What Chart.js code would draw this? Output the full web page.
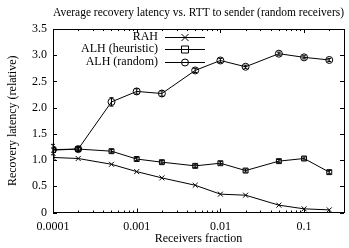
<!DOCTYPE html>
<html>
<head>
<meta charset="utf-8">
<script src="https://cdn.jsdelivr.net/npm/chart.js@4/dist/chart.umd.min.js"></script>
<style>
html,body{margin:0;padding:0;background:#fff;}
canvas{display:block;}
</style>
</head>
<body>
<canvas id="c" width="349" height="248"></canvas>
<script>
const fractions = [0.0001, 0.0002, 0.0005, 0.001, 0.002, 0.005, 0.01, 0.02, 0.05, 0.1, 0.2];
const rah = [1.05, 1.03, 0.92, 0.78, 0.66, 0.52, 0.35, 0.33, 0.14, 0.07, 0.05];
const alhHeuristic = [1.19, 1.21, 1.17, 1.02, 0.96, 0.89, 0.94, 0.80, 0.98, 1.03, 0.77];
const alhHeuristicErr = [0.04, 0.03, 0.03, 0.03, 0.03, 0.03, 0.03, 0.03, 0.03, 0.03, 0.03];
const alhRandom = [1.20, 1.21, 2.11, 2.31, 2.27, 2.71, 2.90, 2.78, 3.03, 2.96, 2.91];
const alhRandomErr = [0.10, 0.04, 0.08, 0.05, 0.05, 0.04, 0.04, 0.03, 0.03, 0.03, 0.03];
const seriesLabels = ['RAH', 'ALH (heuristic)', 'ALH (random)'];
const xTickLabels = ['0.0001', '0.001', '0.01', '0.1'];
const titleText = 'Average recovery latency vs. RTT to sender (random receivers)';
const xTitle = 'Receivers fraction';
const yTitle = 'Recovery latency (relative)';

const FONT = "'Liberation Serif', 'Times New Roman', serif";

function pts(ys) { return fractions.map((x, i) => ({x: x, y: ys[i]})); }

function drawMarker(ctx, style, x, y, r) {
  ctx.beginPath();
  if (style === 'crossRot') {
    ctx.moveTo(x - r, y - r); ctx.lineTo(x + r, y + r);
    ctx.moveTo(x - r, y + r); ctx.lineTo(x + r, y - r);
  } else if (style === 'rect') {
    ctx.rect(x - r, y - r, 2 * r, 2 * r);
  } else {
    ctx.arc(x, y, r, 0, Math.PI * 2);
  }
  ctx.stroke();
}

const errorBars = {
  id: 'errorBars',
  afterDatasetsDraw(chart) {
    const ctx = chart.ctx;
    const xs = chart.scales.x, ys = chart.scales.y;
    ctx.save();
    ctx.strokeStyle = '#000';
    ctx.lineWidth = 1;
    chart.data.datasets.forEach(ds => {
      if (!ds.errors) return;
      ds.data.forEach((p, i) => {
        const e = ds.errors[i];
        const px = xs.getPixelForValue(p.x);
        const y1 = ys.getPixelForValue(p.y - e);
        const y2 = ys.getPixelForValue(p.y + e);
        ctx.beginPath();
        ctx.moveTo(px, y1); ctx.lineTo(px, y2);
        ctx.moveTo(px - 2, y1); ctx.lineTo(px + 2, y1);
        ctx.moveTo(px - 2, y2); ctx.lineTo(px + 2, y2);
        ctx.stroke();
      });
    });
    ctx.restore();
  }
};

const frame = {
  id: 'frame',
  afterDraw(chart) {
    const ctx = chart.ctx;
    const a = chart.chartArea;
    const xs = chart.scales.x, ys = chart.scales.y;
    ctx.save();
    ctx.strokeStyle = '#000';
    ctx.lineWidth = 1;
    ctx.strokeRect(Math.round(a.left) + 0.5, Math.round(a.top) + 0.5, Math.round(a.right - a.left), Math.round(a.bottom - a.top));
    ctx.beginPath();
    ys.ticks.forEach(t => {
      const py = Math.round(ys.getPixelForValue(t.value)) + 0.5;
      ctx.moveTo(a.left, py); ctx.lineTo(a.left + 4, py);
      ctx.moveTo(a.right, py); ctx.lineTo(a.right - 4, py);
    });
    for (let e = -4; e <= -1; e++) {
      for (let m = 1; m <= 9; m++) {
        const v = m * Math.pow(10, e);
        if (v < xs.min - 1e-12 || v > xs.max) continue;
        const px = Math.round(xs.getPixelForValue(v)) + 0.5;
        const len = m === 1 ? 4 : 2;
        ctx.moveTo(px, a.bottom); ctx.lineTo(px, a.bottom - len);
        ctx.moveTo(px, a.top); ctx.lineTo(px, a.top + len);
      }
    }
    ctx.stroke();

    // gnuplot-style key
    const textRight = 158, lx1 = 165, lx2 = 205, mx = 185;
    ctx.font = '12px ' + FONT;
    ctx.fillStyle = '#000';
    ctx.textAlign = 'right';
    ctx.textBaseline = 'middle';
    chart.data.datasets.forEach((ds, i) => {
      const y = 36.5 + i * 12.5;
      ctx.fillText(ds.label, textRight, y);
      ctx.beginPath();
      ctx.moveTo(lx1, Math.round(y) + 0.5); ctx.lineTo(lx2, Math.round(y) + 0.5);
      ctx.stroke();
      drawMarker(ctx, ds.pointStyle, mx, Math.round(y) + 0.5, 3.5);
    });
    ctx.restore();
  }
};

const common = {
  borderColor: '#000',
  borderWidth: 1,
  pointBorderColor: '#000',
  pointBackgroundColor: 'rgba(0,0,0,0)',
  pointBorderWidth: 1,
  pointRadius: 3.5,
  tension: 0,
  fill: false
};

new Chart(document.getElementById('c'), {
  type: 'line',
  data: {
    datasets: [
      Object.assign({label: seriesLabels[0], data: pts(rah), pointStyle: 'crossRot'}, common),
      Object.assign({label: seriesLabels[1], data: pts(alhHeuristic), errors: alhHeuristicErr, pointStyle: 'rect'}, common),
      Object.assign({label: seriesLabels[2], data: pts(alhRandom), errors: alhRandomErr, pointStyle: 'circle'}, common)
    ]
  },
  options: {
    responsive: false,
    animation: false,
    layout: {padding: 0},
    plugins: {
      legend: {display: false},
      tooltip: {enabled: false},
      title: {
        display: true,
        text: titleText,
        fullSize: false,
        color: '#000',
        font: {family: FONT, size: 11.7, weight: 'normal'},
        padding: {top: 6, bottom: 9}
      }
    },
    scales: {
      x: {
        type: 'logarithmic',
        min: 0.0001,
        max: 0.3,
        grid: {display: false, drawTicks: false},
        border: {display: false},
        afterFit(s) { s.height = 35.5; },
        afterBuildTicks(s) {
          s.ticks = xTickLabels.map(l => ({value: parseFloat(l), major: true}));
        },
        ticks: {
          autoSkip: false,
          maxRotation: 0,
          padding: 7,
          color: '#000',
          font: {family: FONT, size: 12},
          callback: (v) => { const l = xTickLabels.find(t => Math.abs(parseFloat(t) - v) < v * 1e-6); return l || ''; }
        },
        title: {
          display: true,
          text: xTitle,
          color: '#000',
          font: {family: FONT, size: 12},
          padding: {top: 0, bottom: 2}
        }
      },
      y: {
        min: 0,
        max: 3.5,
        grid: {display: false, drawTicks: false},
        border: {display: false},
        afterFit(s) { s.width = 53; },
        ticks: {
          stepSize: 0.5,
          padding: 6,
          color: '#000',
          font: {family: FONT, size: 12}
        },
        title: {
          display: true,
          text: yTitle,
          color: '#000',
          font: {family: FONT, size: 12},
          padding: {top: 5.4, bottom: 0}
        }
      }
    }
  },
  plugins: [errorBars, frame]
});
</script>
</body>
</html>
